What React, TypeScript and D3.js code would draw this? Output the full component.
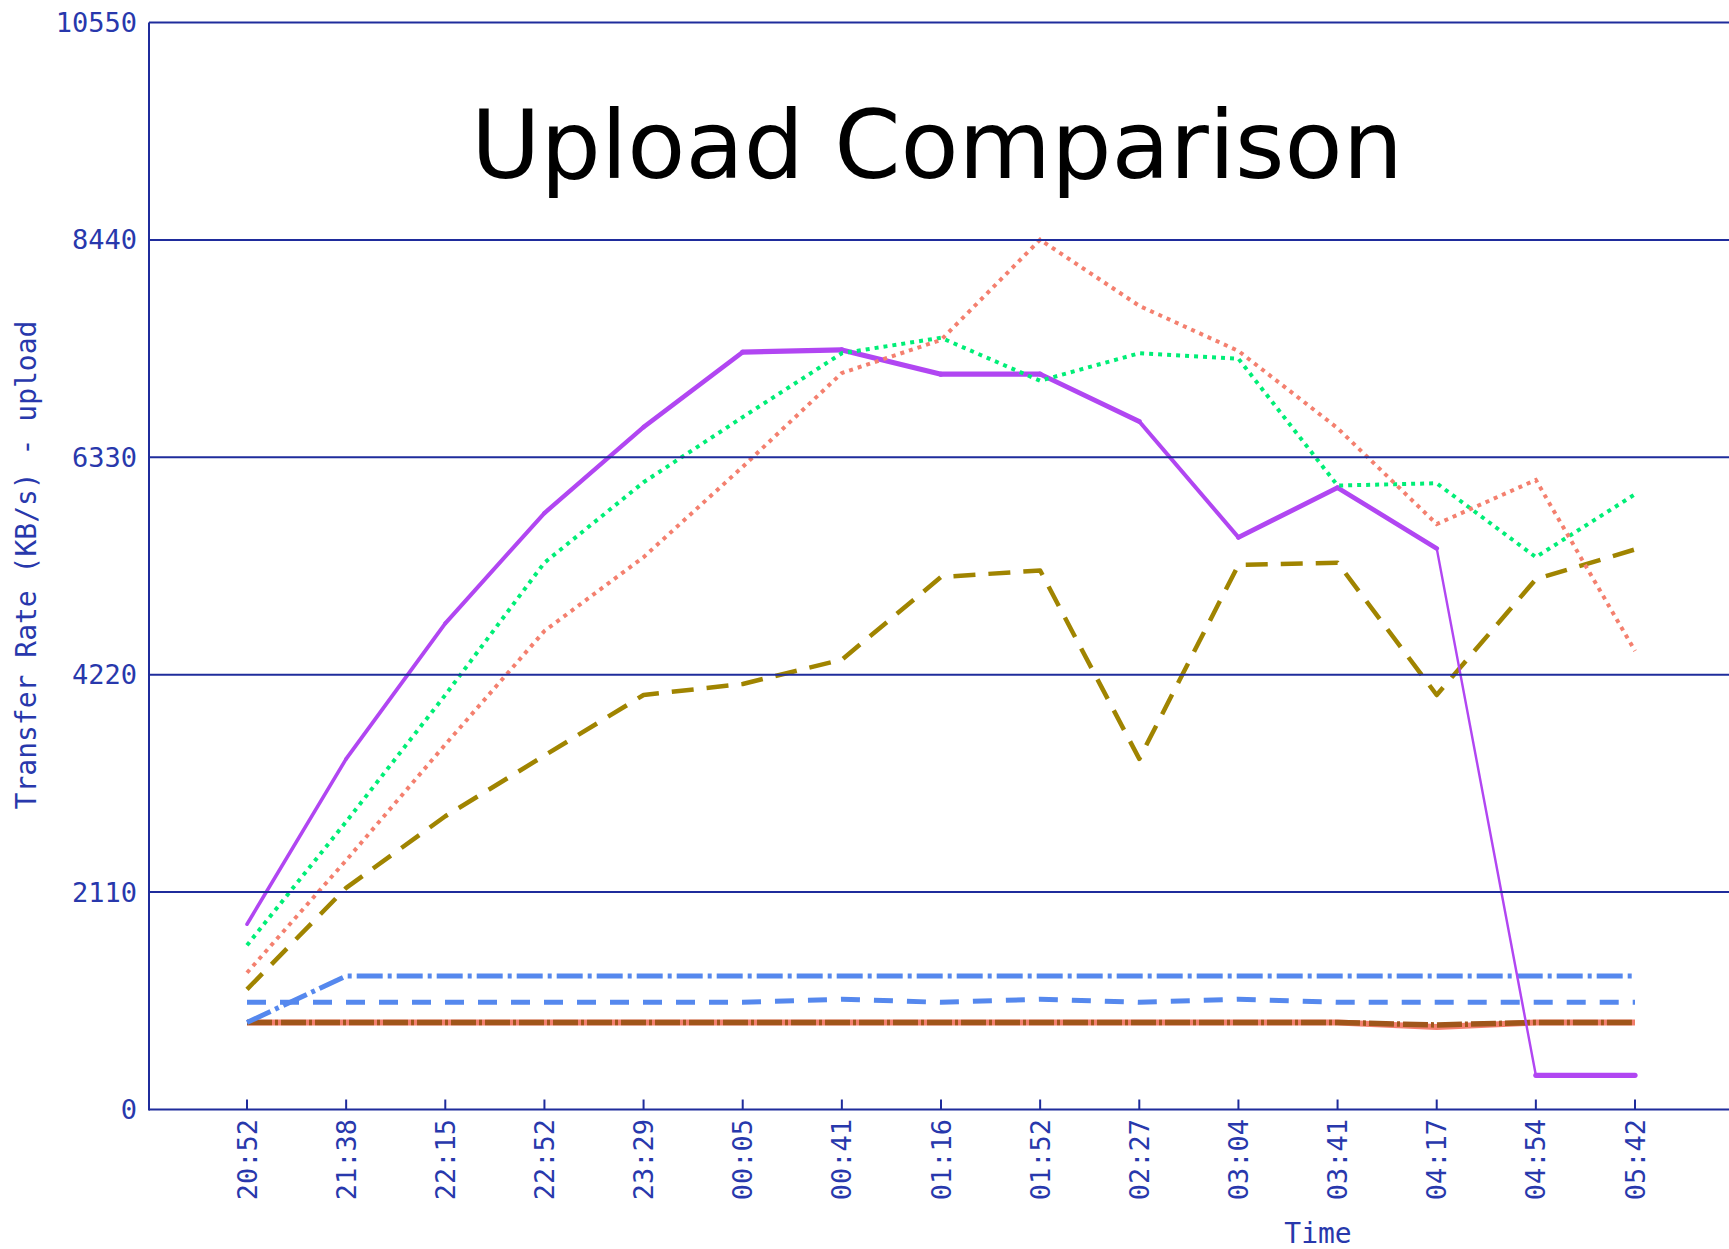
import React from 'react';
import * as d3 from 'd3';

const times = ['20:52', '21:38', '22:15', '22:52', '23:29', '00:05', '00:41', '01:16', '01:52', '02:27', '03:04', '03:41', '04:17', '04:54', '05:42'];
const yTicks = [0, 2110, 4220, 6330, 8440, 10550];
const yMax = 10550;

const purpleSolid = [1798, 3403, 4719, 5789, 6623, 7351, 7372, 7137, 7137, 6677, 5553, 6035, 5446, 332, 332];
const greenDotted = [1594, 2793, 4023, 5307, 6088, 6720, 7340, 7490, 7073, 7340, 7287, 6056, 6078, 5361, 5971];
const salmonDotted = [1327, 2418, 3542, 4644, 5361, 6238, 7148, 7469, 8442, 7800, 7362, 6613, 5682, 6110, 4451];
const oliveDashed = [1166, 2151, 2846, 3435, 4023, 4130, 4366, 5168, 5232, 3403, 5286, 5307, 4023, 5147, 5436];
const blueDashDot = [845, 1295, 1295, 1295, 1295, 1295, 1295, 1295, 1295, 1295, 1295, 1295, 1295, 1295, 1295];
const blueDashed = [1040, 1040, 1040, 1040, 1040, 1040, 1070, 1040, 1070, 1040, 1070, 1040, 1040, 1040, 1040];
const brownDashDot = [845, 845, 845, 845, 845, 845, 845, 845, 845, 845, 845, 845, 820, 845, 845];
const salmonSolid = [845, 845, 845, 845, 845, 845, 845, 845, 845, 845, 845, 845, 800, 845, 845];

const W = 1729;
const H = 1249;
const axisColor = '#1f2c9c';
const textColor = '#2838ac';
const mono = '"DejaVu Sans Mono", "Liberation Mono", monospace';

export default function App() {
  const x = d3.scalePoint<string>().domain(times).range([247, 1635]);
  const y = d3.scaleLinear().domain([0, yMax]).range([1109.5, 22.5]);
  const plotLeft = 149;
  const plotRight = W;

  const line = d3
    .line<number>()
    .x((_, i) => x(times[i]) as number)
    .y((d) => y(d))
    .curve(d3.curveLinear);

  const series = [
    { values: salmonSolid, color: '#f4806f', width: 6, dash: undefined },
    { values: brownDashDot, color: '#a0561a', width: 5.5, dash: '25,3,3,3' },
    { values: blueDashed, color: '#5588ee', width: 5, dash: '19,14' },
    { values: blueDashDot, color: '#5588ee', width: 5, dash: '26,5,4,5' },
    { values: oliveDashed, color: '#a08400', width: 4.5, dash: '22,13' },
  ];
  const dotted = [
    { values: greenDotted, color: '#00ee77', width: 4, dash: '4,5' },
    { values: salmonDotted, color: '#f4806f', width: 4, dash: '4,5' },
  ];

  const purpleSegments = d3.pairs(purpleSolid.map((v, i) => [x(times[i]) as number, y(v)] as [number, number]));

  return (
    <svg width={W} height={H} style={{ position: 'absolute', left: 0, top: 0, background: '#fff' }}>
      <rect x={0} y={0} width={W} height={H} fill="#fff" />
      <text
        x={937}
        y={178}
        textAnchor="middle"
        fontFamily='"DejaVu Sans", Verdana, sans-serif'
        fontSize={95}
        fill="#000"
      >
        Upload Comparison
      </text>

      {series.map((s, i) => (
        <path
          key={'s' + i}
          d={line(s.values) || ''}
          fill="none"
          stroke={s.color}
          strokeWidth={s.width}
          strokeDasharray={s.dash}
          strokeLinejoin="round"
        />
      ))}

      {purpleSegments.map(([a, b], i) => {
        const ang = Math.atan2(Math.abs(b[1] - a[1]), Math.abs(b[0] - a[0]));
        const w = 1.8 + 3.4 * Math.cos(ang);
        return (
          <line
            key={'p' + i}
            x1={a[0]}
            y1={a[1]}
            x2={b[0]}
            y2={b[1]}
            stroke="#b146f2"
            strokeWidth={w}
            strokeLinecap="round"
          />
        );
      })}

      {dotted.map((s, i) => (
        <path
          key={'d' + i}
          d={line(s.values) || ''}
          fill="none"
          stroke={s.color}
          strokeWidth={s.width}
          strokeDasharray={s.dash}
        />
      ))}

      {/* grid + frame */}
      {yTicks.map((t) => (
        <line key={'g' + t} x1={plotLeft} x2={plotRight} y1={y(t)} y2={y(t)} stroke={axisColor} strokeWidth={2} />
      ))}
      <line x1={plotLeft} x2={plotLeft} y1={y(yMax)} y2={y(0) + 1} stroke={axisColor} strokeWidth={2} />
      {times.map((t) => (
        <line key={'t' + t} x1={x(t)} x2={x(t)} y1={y(0)} y2={y(0) - 10} stroke={axisColor} strokeWidth={2} />
      ))}

      {yTicks.map((t) => (
        <text
          key={'yl' + t}
          x={137}
          y={y(t)}
          textAnchor="end"
          dominantBaseline="central"
          fontFamily={mono}
          fontSize={27}
          fill={textColor}
        >
          {t}
        </text>
      ))}
      {times.map((t) => (
        <text
          key={'xl' + t}
          transform={`translate(${x(t)},1119) rotate(-90)`}
          textAnchor="end"
          dominantBaseline="central"
          fontFamily={mono}
          fontSize={27}
          fill={textColor}
        >
          {t}
        </text>
      ))}
      <text
        transform="translate(26,565) rotate(-90)"
        textAnchor="middle"
        dominantBaseline="central"
        fontFamily={mono}
        fontSize={28}
        fill={textColor}
      >
        Transfer Rate (KB/s) - upload
      </text>
      <text x={1318} y={1243} textAnchor="middle" fontFamily={mono} fontSize={28} fill={textColor}>
        Time
      </text>
    </svg>
  );
}
